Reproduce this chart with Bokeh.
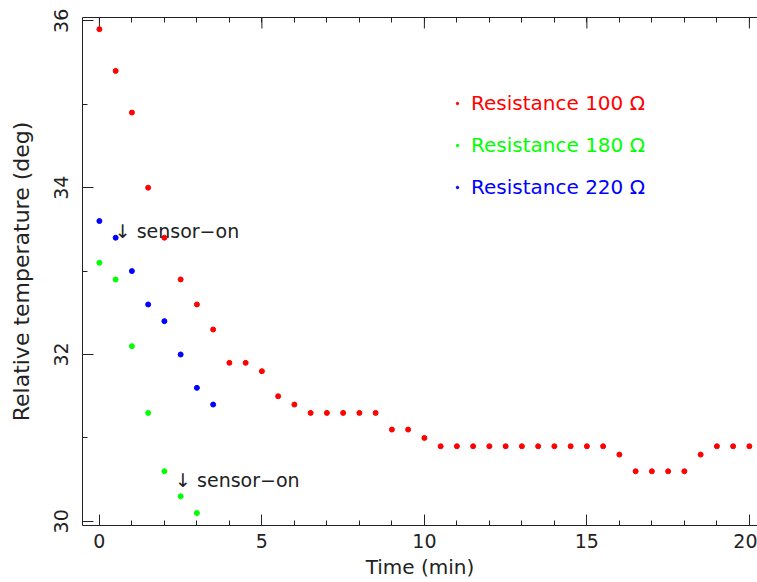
from bokeh.plotting import figure
from bokeh.models import (Range1d, LinearAxis, FixedTicker, Legend, LegendItem, Label)
from bokeh.embed import file_html
from bokeh.resources import INLINE

# ---- data ----
time_100 = [0, 0.5, 1, 1.5, 2, 2.5, 3, 3.5, 4, 4.5, 5, 5.5, 6, 6.5, 7, 7.5, 8, 8.5,
            9, 9.5, 10, 10.5, 11, 11.5, 12, 12.5, 13, 13.5, 14, 14.5, 15, 15.5,
            16, 16.5, 17, 17.5, 18, 18.5, 19, 19.5, 20]
temp_100 = [35.9, 35.4, 34.9, 34.0, 33.4, 32.9, 32.6, 32.3, 31.9, 31.9, 31.8, 31.5,
            31.4, 31.3, 31.3, 31.3, 31.3, 31.3, 31.1, 31.1, 31.0, 30.9, 30.9, 30.9,
            30.9, 30.9, 30.9, 30.9, 30.9, 30.9, 30.9, 30.9, 30.8, 30.6, 30.6, 30.6,
            30.6, 30.8, 30.9, 30.9, 30.9]
time_180 = [0, 0.5, 1, 1.5, 2, 2.5, 3]
temp_180 = [33.1, 32.9, 32.1, 31.3, 30.6, 30.3, 30.1]
time_220 = [0, 0.5, 1, 1.5, 2, 2.5, 3, 3.5]
temp_220 = [33.6, 33.4, 33.0, 32.6, 32.4, 32.0, 31.6, 31.4]

series_labels = ["Resistance 100 \u03a9", "Resistance 180 \u03a9", "Resistance 220 \u03a9"]
series_colors = ["#ff0000", "#00ff00", "#0000ff"]

x_major = [0, 5, 10, 15, 20]
x_minor = list(range(0, 21))
y_major = [30, 32, 34, 36]
y_minor = [30, 31, 32, 33, 34, 35, 36]

note_text = "\u2193 sensor\u2212on"
note_x = [0.47, 2.33]
note_y = [33.48, 30.49]

FONT = "DejaVu Sans"
INK = "#222222"
X0, X1 = -0.52, 20.25
Y0, Y1 = 29.95, 36.04
FRAME_H = 508  # pixels between top and bottom frame lines

p = figure(width=757, height=582, output_backend="svg", toolbar_location=None,
           x_range=Range1d(X0, X1), y_range=Range1d(Y0, Y1),
           x_axis_location=None, y_axis_location=None,
           min_border_left=82, min_border_right=0, min_border_top=17,
           min_border_bottom=57)
p.outline_line_color = None
p.xgrid.visible = False
p.ygrid.visible = False
p.background_fill_color = "white"
p.border_fill_color = "white"


def style_axis(ax, ticks, minor):
    ax.ticker = FixedTicker(ticks=ticks, minor_ticks=minor)
    ax.axis_line_color = INK
    ax.axis_line_width = 1
    ax.major_tick_line_color = INK
    ax.minor_tick_line_color = INK
    ax.major_tick_in = 11
    ax.major_tick_out = 0
    ax.minor_tick_in = 5
    ax.minor_tick_out = 0
    ax.major_label_text_font = FONT
    ax.major_label_text_color = INK
    ax.axis_label_text_font = FONT
    ax.axis_label_text_color = INK
    ax.axis_label_text_font_style = "normal"


xb = LinearAxis(axis_label="Time (min)")
style_axis(xb, x_major, x_minor)
xb.major_label_text_font_size = "19px"
xb.axis_label_text_font_size = "20px"
xb.major_label_standoff = 8
xb.axis_label_standoff = 4
p.add_layout(xb, "below")

# top frame line with inward minor ticks (no labels)
xt = LinearAxis()
style_axis(xt, [], x_minor)
p.add_layout(xt, "above")
# inward major ticks on the top frame line
tick_len = 11 * (Y1 - Y0) / FRAME_H
p.segment(x0=x_major, y0=[Y1] * len(x_major), x1=x_major,
          y1=[Y1 - tick_len] * len(x_major), line_color=INK, line_width=1)

yl = LinearAxis(axis_label="Relative temperature (deg)")
style_axis(yl, y_major, y_minor)
yl.major_label_text_font_size = "19px"
yl.axis_label_text_font_size = "22px"
yl.major_label_orientation = "vertical"
yl.major_label_standoff = 14
yl.axis_label_standoff = 18
p.add_layout(yl, "left")

r100 = p.scatter(time_100, temp_100, size=5, color=series_colors[0])
r180 = p.scatter(time_180, temp_180, size=5, color=series_colors[1])
r220 = p.scatter(time_220, temp_220, size=5, color=series_colors[2])

renderers = [r100, r180, r220]
for i, (lab, col, rr) in enumerate(zip(series_labels, series_colors, renderers)):
    lg = Legend(items=[LegendItem(label=lab, renderers=[rr])],
                location=(372, 410 - 42 * i),
                label_text_color=col, label_text_font=FONT,
                label_text_font_size="20px",
                glyph_width=6, glyph_height=20, label_height=20,
                label_standoff=11, padding=0, margin=0, spacing=0,
                background_fill_alpha=0, border_line_color=None)
    p.add_layout(lg, "center")

for tx, ty in zip(note_x, note_y):
    p.add_layout(Label(x=tx, y=ty, text=note_text, text_font=FONT,
                       text_font_size="19px", text_color=INK,
                       text_baseline="middle", text_align="left"))

open("out.html", "w").write(file_html(p, INLINE))
